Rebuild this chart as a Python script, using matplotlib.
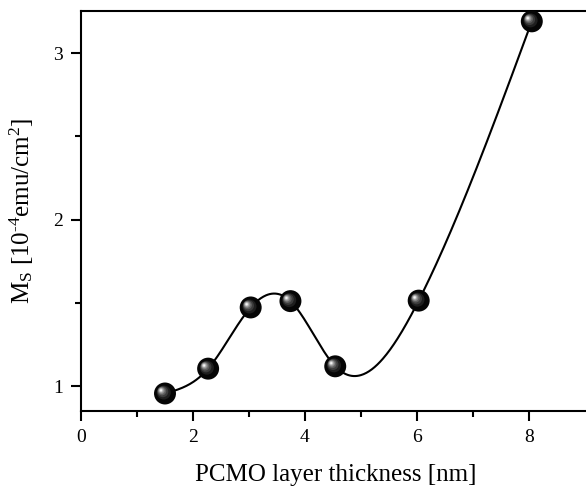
import numpy as np
import matplotlib
matplotlib.use("Agg")
import matplotlib.pyplot as plt
from matplotlib.transforms import offset_copy

thickness = [1.5, 2.27, 3.03, 3.74, 4.54, 6.03, 8.05]
ms_values = [0.958, 1.107, 1.474, 1.512, 1.121, 1.515, 3.19]
x_major_ticks = [0, 2, 4, 6, 8]
y_major_ticks = [1, 2, 3]

plt.rcParams['font.family'] = ['Liberation Serif', 'DejaVu Serif']
plt.rcParams['mathtext.fontset'] = 'custom'
plt.rcParams['mathtext.rm'] = 'Liberation Serif'
plt.rcParams['mathtext.it'] = 'Liberation Serif:italic'
plt.rcParams['mathtext.bf'] = 'Liberation Serif:bold'


def natural_cubic_spline(x, y, xs):
    x = np.asarray(x, float); y = np.asarray(y, float)
    n = len(x)
    h = np.diff(x)
    A = np.zeros((n, n)); b = np.zeros(n)
    A[0, 0] = 1; A[-1, -1] = 1
    for i in range(1, n - 1):
        A[i, i - 1] = h[i - 1]
        A[i, i] = 2 * (h[i - 1] + h[i])
        A[i, i + 1] = h[i]
        b[i] = 3 * ((y[i + 1] - y[i]) / h[i] - (y[i] - y[i - 1]) / h[i - 1])
    c = np.linalg.solve(A, b)
    bb = np.zeros(n - 1); d = np.zeros(n - 1)
    for i in range(n - 1):
        bb[i] = (y[i + 1] - y[i]) / h[i] - h[i] * (2 * c[i] + c[i + 1]) / 3
        d[i] = (c[i + 1] - c[i]) / (3 * h[i])
    idx = np.clip(np.searchsorted(x, xs) - 1, 0, n - 2)
    dx = xs - x[idx]
    return y[idx] + bb[idx] * dx + c[idx] * dx ** 2 + d[idx] * dx ** 3


W, H = 586, 490
fig = plt.figure(figsize=(W / 100, H / 100), dpi=100)
xmax = 9.1
px_per_unit = 56
left = 81 / W
bottom = (H - 411) / H
height = 400 / H
width = xmax * px_per_unit / W
ax = fig.add_axes([left, bottom, width, height])

xs = np.linspace(thickness[0], thickness[-1], 400)
ys = natural_cubic_spline(thickness, ms_values, xs)
ax.plot(xs, ys, color='black', lw=1.5, zorder=2)

# shaded sphere markers
ax.scatter(thickness, ms_values, s=250, color='#050505', zorder=3, edgecolors='none')
layers = [(14.0, '#1e1e1e', -1.2), (11.0, '#3c3c3c', -2.2), (8.5, '#5e5e5e', -3.0),
          (6.5, '#858585', -3.5), (4.8, '#a8a8a8', -3.8), (3.3, '#d0d0d0', -4.0),
          (2.0, '#f4f4f4', -4.0)]
for diam_px, col, off in layers:
    tr = offset_copy(ax.transData, fig=fig, x=off * 0.72, y=-off * 0.72 * 0.8, units='points')
    ax.scatter(thickness, ms_values, s=(diam_px * 0.72) ** 2, color=col,
               edgecolors='none', zorder=4, transform=tr)

ax.set_xlim(0, xmax)
ax.set_ylim(0.853, 3.252)
ax.set_xticks(x_major_ticks)
ax.set_xticks([1, 3, 5, 7], minor=True)
ax.set_yticks(y_major_ticks)
ax.set_yticks([1.5, 2.5], minor=True)
ax.set_xticklabels([str(v) for v in x_major_ticks])
ax.set_yticklabels([str(v) for v in y_major_ticks])

for sp in ax.spines.values():
    sp.set_linewidth(1.5)
ax.spines['right'].set_visible(False)

ax.tick_params(axis='both', which='major', direction='out', length=7, width=1.5,
               labelsize=14, pad=6)
ax.tick_params(axis='both', which='minor', direction='out', length=4, width=1.5)
ax.tick_params(top=False, right=False, which='both')

ax.set_xlabel('PCMO layer thickness [nm]', fontsize=18, labelpad=13)
ax.set_ylabel(r'M$_\mathrm{S}$ [10$^{\text{-4}}$emu/cm$^{2}$]', fontsize=18, labelpad=12)

fig.savefig('out.png', dpi=100)
